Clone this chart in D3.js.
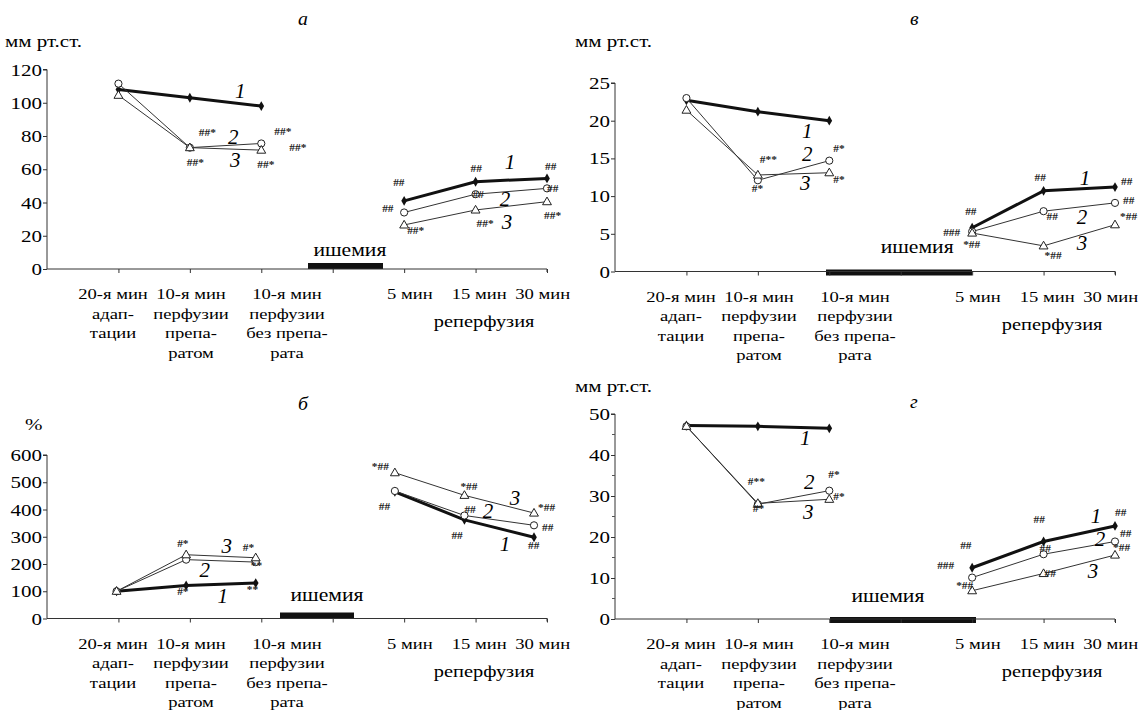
<!DOCTYPE html>
<html><head><meta charset="utf-8">
<script src="https://cdn.jsdelivr.net/npm/d3@7"></script>
<style>
body{margin:0;background:#fff}
svg{display:block}
svg text{font-family:"Liberation Serif","Times New Roman",serif;}
</style>
</head><body>
<svg id="c" width="1141" height="710"></svg>
<script>
// ---------------- DATA ----------------
const categoryLabels = [
  ["20-я мин","адап-","тации"],
  ["10-я мин","перфузии","препа-","ратом"],
  ["10-я мин","перфузии","без препа-","рата"],
  ["5 мин"],["15 мин"],["30 мин"]
];
const categoryIndex = [1,2,3,5,6,7];
const reperfusionLabel = "реперфузия";
const ischemiaLabel = "ишемия";
const seriesNames = ["1","2","3"];

// panel а — mm Hg
const aTicks = [0,20,40,60,80,100,120];
const aS1 = [108,103,98, 41,52.5,54.5];
const aS2 = [111.5,73,75.5, 34,45,48.5];
const aS3 = [104.5,73,71.5, 26.5,35.5,40.5];
const aNotes = ["##*","##*","##*","##*","##*","##","##","##*","##","##","##*","##","##","##*"];

// panel б — %
const bTicks = [0,100,200,300,400,500,600];
const bS1 = [100,121,130, 465,362,298];
const bS2 = [100,216,207, 468,378,342];
const bS3 = [100,234,223, 535,452,387];
const bNotes = ["#*","#*","#*","**","**","*##","##","*##","##","##","*##","##","##"];

// panel в — mm Hg
const vTicks = [0,5,10,15,20,25];
const vS1 = [22.7,21.2,20.0, 5.8,10.7,11.2];
const vS2 = [23.0,12.1,14.7, 5.3,8.0,9.1];
const vS3 = [21.4,12.8,13.1, 5.1,3.4,6.2];
const vNotes = ["#**","#*","#*","#*","##","###","*##","##","##","*##","##","##","*##"];

// panel г — mm Hg
const gTicks = [0,10,20,30,40,50];
const gMinor = [5,15,25,35,45];
const gS1 = [47.2,47,46.5, 12.5,18.9,22.7];
const gS2 = [47,28,31.3, 10.1,15.8,18.9];
const gS3 = [47,28.2,29.2, 6.9,11.1,15.6];
const gNotes = ["#**","#*","#*","#*","##","###","*##","##","##","##","##","##","*##"];

// ---------------- LAYOUT ----------------
const aNoteAt = [[1,1,9,-12],[2,1,-3,18],[1,2,13,-8],[1,2,28,8],[2,2,-4,18],
  [0,3,-11,-15],[1,3,-22,0],[2,3,3,9],[0,4,-5,-10],[1,4,-3,4],[2,4,1,17],[0,5,-2,-8],[1,5,0,4],[2,5,-3,17]];
const bNoteAt = [[2,1,-9,-8],[2,2,-13,-7],[0,1,-9,9],[0,2,-9,10],[1,2,-5,7],
  [2,3,-23,-3],[1,3,-16,19],[2,4,-4,-5],[1,4,0,-2],[0,4,-13,19],[2,5,4,-2],[1,5,8,6],[0,5,-6,12]];
const vNoteAt = [[2,1,2,-12],[1,1,-6,12],[1,2,4,-9],[2,2,4,10],
  [0,3,-7,-13],[0,3,-29,8],[2,3,-9,15],[0,4,-9,-10],[1,4,3,9],[2,4,1,13],[0,5,6,-2],[1,5,8,1],[2,5,5,-5]];
const gNoteAt = [[1,1,-10,-19],[1,1,-5,8],[1,2,-1,-13],[2,2,4,1],
  [0,3,-12,-19],[0,3,-35,1],[2,3,-16,-2],[0,4,-10,-19],[1,4,-4,-2],[2,4,1,4],[0,5,0,-10],[1,5,5,-5],[2,5,-2,-4]];
const aNumAt = [[0,2,-21,-8],[1,2,-28,1],[2,2,-26,17],[0,5,-37,-9],[1,5,-42,18],[2,5,-40,27]];
const bNumAt = [[2,2,-29,-5],[1,2,-51,15],[0,2,-33,20],[2,5,-19,-8],[1,5,-46,-7],[0,5,-29,14]];
const vNumAt = [[0,2,-22,17],[1,2,-22,0],[2,2,-24,17],[0,5,-30,-2],[1,5,-33,21],[2,5,-33,25]];
const gNumAt = [[0,2,-24,17],[1,2,-20,-2],[2,2,-21,20],[0,5,-19,-3],[1,5,-15,4],[2,5,-22,23]];

const labelPos = [0.924, 2.016, 3.36, 5.08, 6.05, 6.94];
const reperfPos = 6.12;
const SX = 1.2;

const panels = [
  {letter:"а", unit:"мм рт.ст.", unitXY:[5,47], letterXY:[298,25], ax:47, y0:269, yTop:69.5, ticks:aTicks, minor:[],
   s:[aS1,aS2,aS3], notes:aNotes, noteAt:aNoteAt, numAt:aNumAt, dataW:500, bar:[3.654,4.704], barY:[-6,0], isch:[4.24,-13]},
  {letter:"б", unit:"%", unitXY:[25,430], letterXY:[298,410], ax:47, y0:618.5, yTop:455, ticks:bTicks, minor:[],
   s:[bS1,bS2,bS3], notes:bNotes, noteAt:bNoteAt, numAt:bNumAt, dataW:487, bar:[3.262,4.298], barY:[-6,0], isch:[3.92,-18]},
  {letter:"в", unit:"мм рт.ст.", unitXY:[575,47], letterXY:[910,25], ax:615, y0:271.5, yTop:83, ticks:vTicks, minor:[],
   s:[vS1,vS2,vS3], notes:vNotes, noteAt:vNoteAt, numAt:vNumAt, dataW:500, bar:[2.954,4.998], barY:[-2,4], isch:[4.23,-19]},
  {letter:"г", unit:"мм рт.ст.", unitXY:[575,392], letterXY:[910,408], ax:615, y0:619, yTop:414, ticks:gTicks, minor:gMinor,
   s:[gS1,gS2,gS3], notes:gNotes, noteAt:gNoteAt, numAt:gNumAt, dataW:500, bar:[3.01,5.054], barY:[-2,4], isch:[3.82,-17]}
];

const svg = d3.select("#c");

function txt(g, x, y, s, size, opts={}) {
  const t = g.append("text")
    .attr("transform", `translate(${x},${y}) scale(${opts.sx||SX},1)`)
    .attr("font-size", size)
    .attr("text-anchor", opts.anchor || "start")
    .attr("fill", opts.fill || "#000")
    .text(s);
  if (opts.italic) t.attr("font-style","italic");
  if (opts.weight) t.attr("font-weight", opts.weight);
  return t;
}

panels.forEach(p => {
  const g = svg.append("g");
  const x = d3.scaleLinear().domain([0,7]).range([p.ax, p.ax+500]);
  const xd = d3.scaleLinear().domain([0,7]).range([p.ax, p.ax+p.dataW]);
  const y = d3.scaleLinear().domain([0, d3.max(p.ticks)]).range([p.y0, p.yTop]);

  g.append("rect")
    .attr("x", x(p.bar[0])).attr("width", x(p.bar[1]) - x(p.bar[0]))
    .attr("y", p.y0 + p.barY[0]).attr("height", p.barY[1]-p.barY[0])
    .attr("fill", "#111");
  txt(g, x(p.isch[0]), p.y0 + p.isch[1], ischemiaLabel, 18, {anchor:"middle"});

  const yAxis = d3.axisLeft(y).tickValues(p.ticks).tickSize(4).tickFormat(d=>d);
  const ya = g.append("g").attr("transform", `translate(${p.ax},0)`).call(yAxis);
  ya.attr("font-family", null).attr("font-size", null);
  ya.select(".domain").attr("stroke","#333").attr("d", `M-4,${y(d3.max(p.ticks))}H0V${p.y0}`);
  ya.selectAll(".tick line").attr("stroke","#333");
  ya.selectAll(".tick text").remove();
  p.ticks.forEach(v => txt(g, p.ax-5, y(v)+6, String(v), 17.5, {anchor:"end"}));
  p.minor.forEach(v => g.append("line").attr("x1",p.ax-3).attr("x2",p.ax).attr("y1",y(v)).attr("y2",y(v)).attr("stroke","#555"));

  const xAxis = d3.axisBottom(x).tickValues(d3.range(1,8)).tickSize(4).tickFormat("");
  const xa = g.append("g").attr("transform", `translate(0,${p.y0})`).call(xAxis);
  xa.attr("font-family", null).attr("font-size", null);
  xa.select(".domain").attr("stroke","#333").attr("d", `M${p.ax},0H${p.ax+500}V3`);
  xa.selectAll(".tick line").attr("stroke","#333");

  categoryLabels.forEach((lines, i) => {
    lines.forEach((ln, j) => txt(g, x(labelPos[i]), p.y0 + 30 + j*19.5, ln, 15.5, {anchor:"middle"}));
  });
  txt(g, x(reperfPos), p.y0 + 58, reperfusionLabel, 17, {anchor:"middle"});

  txt(g, p.unitXY[0], p.unitXY[1], p.unit, 17.5);
  txt(g, p.letterXY[0], p.letterXY[1], p.letter, 18, {italic:true, sx:1.1});

  const styles = [{w:3, c:"#111"}, {w:1, c:"#333"}, {w:1, c:"#333"}];
  const line = d3.line().x(d=>xd(d.c)).y(d=>y(d.v));
  p.s.forEach((vals, si) => {
    const pts = vals.map((v,i)=>({c:categoryIndex[i], v}));
    [pts.slice(0,3), pts.slice(3)].forEach(seg => {
      g.append("path").attr("d", line(seg)).attr("fill","none")
        .attr("stroke", styles[si].c).attr("stroke-width", styles[si].w).attr("stroke-linejoin","round");
    });
  });
  p.s.forEach((vals, si) => {
    vals.forEach((v,i) => {
      const cx = xd(categoryIndex[i]), cy = y(v);
      if (si === 0) {
        g.append("path").attr("d", d3.symbol(d3.symbolDiamond).size(28)()).attr("transform",`translate(${cx},${cy})`).attr("fill","#111");
      } else if (si === 1) {
        g.append("circle").attr("cx",cx).attr("cy",cy).attr("r",3.6).attr("fill","#fff").attr("stroke","#222").attr("stroke-width",1);
      } else {
        g.append("path").attr("d", d3.symbol(d3.symbolTriangle).size(34)()).attr("transform",`translate(${cx},${cy+0.5})`)
          .attr("fill","#fff").attr("stroke","#222").attr("stroke-width",1);
      }
    });
  });

  p.notes.forEach((s, k) => {
    const [si, pi, dx, dy] = p.noteAt[k];
    txt(g, xd(categoryIndex[pi]) + dx, y(p.s[si][pi]) + dy, s, 9.5, {fill:"#222", weight:"bold"});
  });
  p.numAt.forEach(a => {
    const [si, pi, dx, dy] = a;
    txt(g, xd(categoryIndex[pi]) + dx, y(p.s[si][pi]) + dy, seriesNames[si], 20, {anchor:"middle", italic:true, sx:1.05});
  });
});
</script>
</body></html>
